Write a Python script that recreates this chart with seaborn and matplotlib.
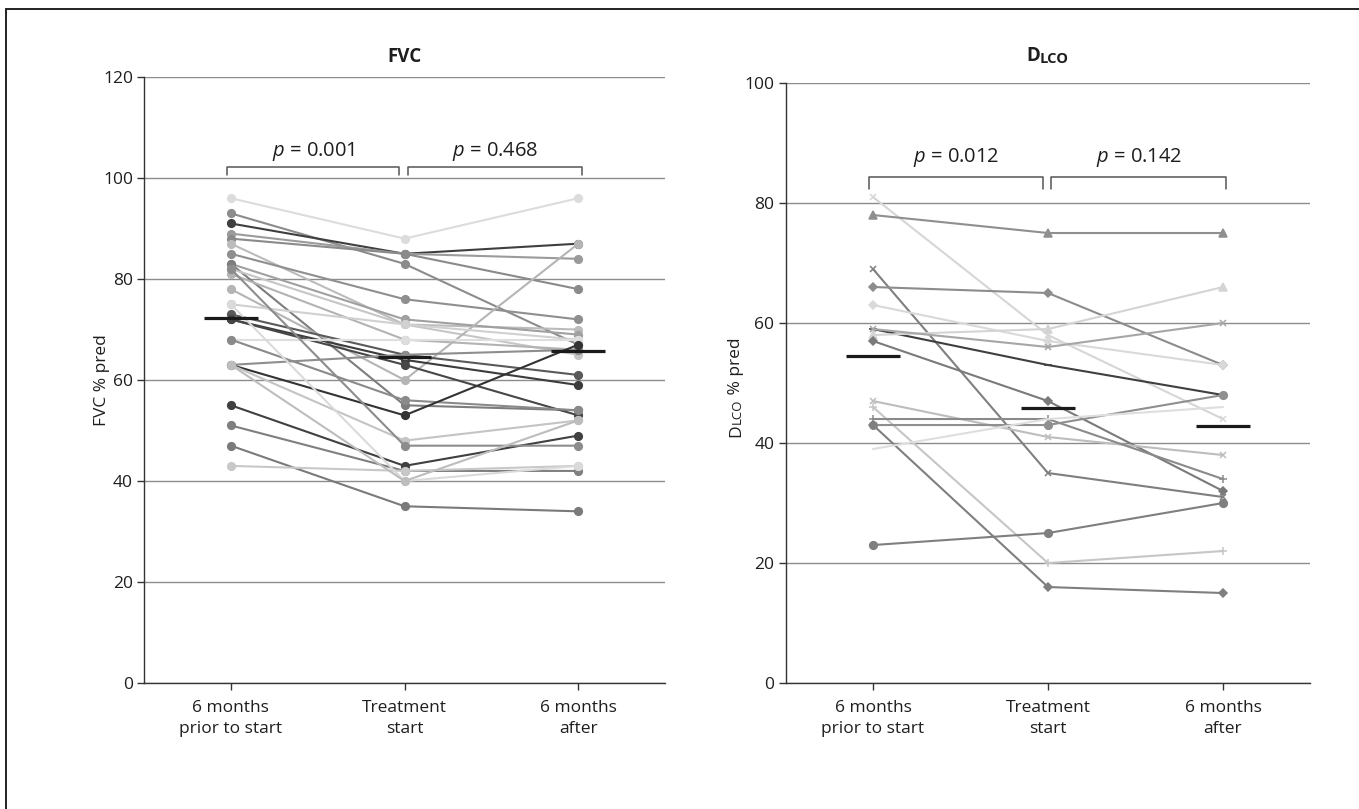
import pandas as pd
import matplotlib
matplotlib.use("Agg")
import matplotlib.pyplot as plt
from matplotlib.lines import Line2D
import seaborn as sns

# time points (x categories)
timepoints = ["6 months\nprior to start", "Treatment\nstart", "6 months\nafter"]

# FVC % pred per patient
fvc_prior = [96, 93, 91, 89, 88, 87, 85, 83, 83, 82, 81, 78, 75, 73, 72, 72, 68, 68, 63, 63, 63, 55, 51, 47, 43, 82, 75, 63]
fvc_start = [88, 83, 85, 85, 85, 71, 76, 72, 55, 71, 68, 60, 71, 65, 64, 63, 68, 56, 65, 53, 48, 43, 42, 35, 42, 47, 40, 40]
fvc_after = [96, 67, 87, 84, 78, 70, 72, 69, 54, 65, 66, 87, 68, 61, 59, 53, 68, 54, 66, 67, 52, 49, 42, 34, 43, 47, 43, 52]
fvc_shade = ["#dcdcdc", "#8c8c8c", "#3f3f3f", "#9b9b9b", "#8a8a8a", "#bcbcbc", "#8f8f8f", "#a0a0a0",
             "#7d7d7d", "#c6c6c6", "#b3b3b3", "#b5b5b5", "#d0d0d0", "#5a5a5a", "#3c3c3c", "#474747",
             "#dedede", "#8a8a8a", "#8e8e8e", "#333333", "#c4c4c4", "#404040", "#7f7f7f", "#7a7a7a",
             "#c8c8c8", "#8c8c8c", "#dadada", "#bdbdbd"]
fvc_marker = ["o"] * len(fvc_prior)
fvc_mean = [72.2, 64.6, 65.8]
fvc_p = ["0.001", "0.468"]

# DLCO % pred per patient
dlco_prior = [81, 78, 69, 66, 63, 59, 58, 57, 47, 46, 44, 43, 43, 39, 23, 59]
dlco_start = [58, 75, 35, 65, 57, 53, 59, 47, 41, 20, 44, 43, 16, 44, 25, 56]
dlco_after = [44, 75, 31, 53, 53, 48, 66, 32, 38, 22, 34, 48, 15, 46, 30, 60]
dlco_shade = ["#d6d6d6", "#8f8f8f", "#7f7f7f", "#8c8c8c", "#d9d9d9", "#3f3f3f", "#d4d4d4", "#7a7a7a",
              "#bdbdbd", "#c6c6c6", "#8a8a8a", "#8f8f8f", "#7f7f7f", "#dedede", "#7f7f7f", "#a6a6a6"]
dlco_marker = ["x", "^", "x", "D", "D", "_", "^", "D", "x", "+", "+", "o", "D", "None", "o", "x"]
dlco_mean = [54.5, 45.8, 42.8]
dlco_p = ["0.012", "0.142"]

sns.set_style("ticks")
plt.rcParams["font.family"] = ["Open Sans", "DejaVu Sans"]
plt.rcParams["mathtext.fontset"] = "custom"
plt.rcParams["mathtext.rm"] = "Open Sans"
plt.rcParams["mathtext.it"] = "Open Sans:italic"

TXT = "#1e1e1e"
msizes = {"o": 5.5, "x": 5, "^": 5.5, "D": 3.8, "_": 6, "+": 6, "None": 0}


def draw_panel(ax, prior, start, after, shades, markers, means, pvals, ymax, br_top, br_low, p_y):
    rows = []
    for i in range(len(prior)):
        for pos, val in enumerate([prior[i], start[i], after[i]]):
            rows.append({"patient": i, "pos": pos, "value": val})
    df = pd.DataFrame(rows)

    for i, (shade, mk) in enumerate(zip(shades, markers)):
        sub = df[df["patient"] == i]
        sns.lineplot(data=sub, x="pos", y="value", color=shade, linewidth=1.5,
                     marker=mk, markersize=msizes[mk], markeredgecolor=shade,
                     markerfacecolor=shade, markeredgewidth=1.1,
                     estimator=None, legend=False, ax=ax, zorder=3)

    # mean bars
    for pos, m in enumerate(means):
        ax.plot([pos - 0.155, pos + 0.155], [m, m], color="#1a1a1a", lw=2.3, zorder=6,
                solid_capstyle="butt")

    # brackets with p values
    spans = [(-0.02, 0.97), (1.02, 2.02)]
    for (x0, x1), p in zip(spans, pvals):
        ax.plot([x0, x0, x1, x1], [br_low, br_top, br_top, br_low], color="#555555",
                lw=1.1, clip_on=False, zorder=4)
        ax.text((x0 + x1) / 2, p_y, f"$p$ = {p}", ha="center", va="center",
                fontsize=14.5, color=TXT)

    ax.set_xlim(-0.5, 2.5)
    ax.set_ylim(0, ymax)
    ax.set_xticks(range(3))
    ax.set_xticklabels(timepoints, fontsize=12.5, color=TXT, linespacing=1.45)
    ax.set_yticks(range(0, ymax + 1, 20))
    ax.tick_params(axis="y", labelsize=12.5, labelcolor=TXT, length=5, width=1,
                   color="#333333", pad=3)
    ax.tick_params(axis="x", length=5, width=1, color="#333333", pad=7)
    ax.yaxis.grid(True, color="#8c8c8c", lw=1)
    ax.set_axisbelow(True)
    ax.set_xlabel("")
    ax.set_ylabel("")
    sns.despine(ax=ax)
    for s in ["left", "bottom"]:
        ax.spines[s].set_color("#333333")
        ax.spines[s].set_linewidth(1)


fig = plt.figure(figsize=(13.59, 8.09), dpi=100)
ax1 = fig.add_axes([0.1060, 0.1557, 0.3834, 0.7491])
ax2 = fig.add_axes([0.5780, 0.1557, 0.3863, 0.7417])

draw_panel(ax1, fvc_prior, fvc_start, fvc_after, fvc_shade, fvc_marker, fvc_mean, fvc_p,
           120, 102.2, 100.6, 105.2)
draw_panel(ax2, dlco_prior, dlco_start, dlco_after, dlco_shade, dlco_marker, dlco_mean, dlco_p,
           100, 84.3, 82.3, 87.6)

# titles
ax1.set_title("FVC", fontsize=13.5, fontweight="bold", color=TXT, pad=11)
t = ax2.text(0.4845, 1.0 + 17 / 600, "D", transform=ax2.transAxes, ha="right", va="bottom",
             fontsize=13.5, fontweight="bold", color=TXT)
ax2.annotate("LCO", xy=(1, 0), xycoords=t, ha="left", va="bottom",
             fontsize=10.5, fontweight="bold", color=TXT)

# y labels
ax1.set_ylabel("FVC % pred", fontsize=12.5, color=TXT)
ax1.yaxis.set_label_coords(-0.066, 0.5)

lx = -0.079
d = ax2.text(lx, 0.41, "D", transform=ax2.transAxes, rotation=90, ha="right", va="bottom",
             fontsize=12.5, color=TXT)
l = ax2.annotate("LCO", xy=(lx, 1), xycoords=(ax2.transAxes, d), rotation=90,
                 ha="right", va="bottom", fontsize=9.5, color=TXT)
ax2.annotate(" % pred", xy=(lx, 1), xycoords=(ax2.transAxes, l), rotation=90,
             ha="right", va="bottom", fontsize=12.5, color=TXT)

# outer frame (left and top edges visible)
fig.add_artist(Line2D([6 / 1359, 6 / 1359], [0, 1 - 9 / 809], transform=fig.transFigure,
                      color="#222222", lw=1.4))
fig.add_artist(Line2D([6 / 1359, 1], [1 - 9 / 809, 1 - 9 / 809], transform=fig.transFigure,
                      color="#222222", lw=1.4))

fig.savefig("out.png", dpi=100)
